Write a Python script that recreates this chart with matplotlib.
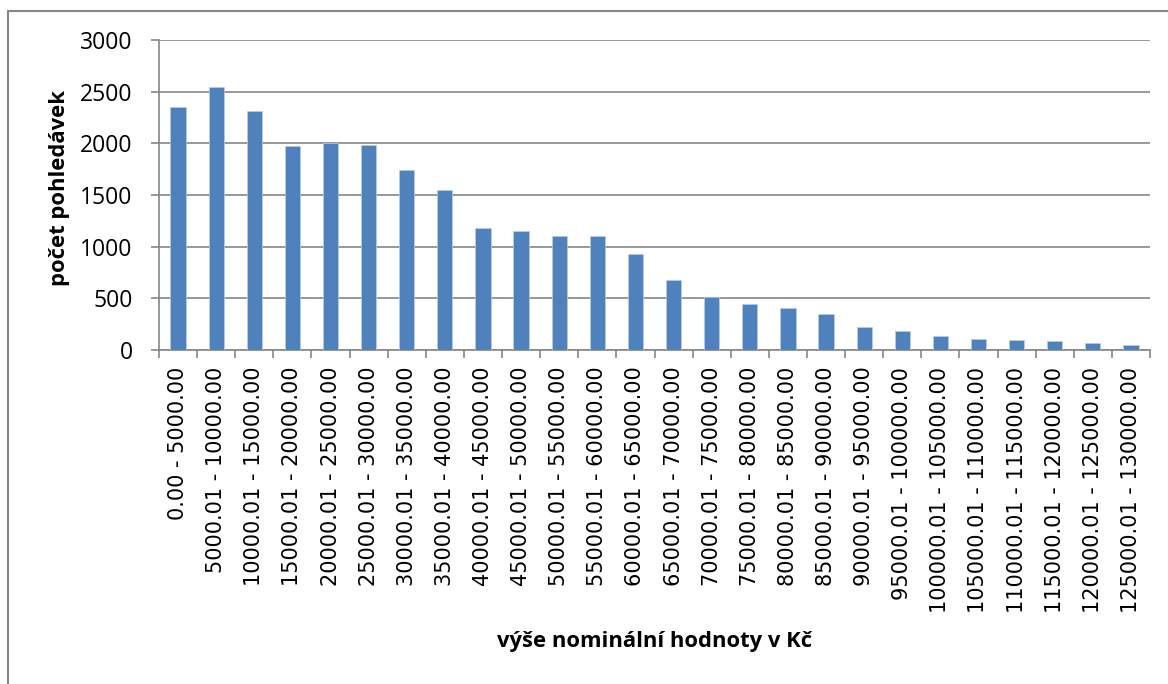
import numpy as np
import matplotlib.pyplot as plt
from matplotlib.patches import Rectangle

plt.rcParams['font.family'] = ['Open Sans', 'DejaVu Sans']

# intervals of nominal value (Kc) and number of receivables
categories = ['0.00 - 5000.00', '5000.01 - 10000.00', '10000.01 - 15000.00',
              '15000.01 - 20000.00', '20000.01 - 25000.00', '25000.01 - 30000.00',
              '30000.01 - 35000.00', '35000.01 - 40000.00', '40000.01 - 45000.00',
              '45000.01 - 50000.00', '50000.01 - 55000.00', '55000.01 - 60000.00',
              '60000.01 - 65000.00', '65000.01 - 70000.00', '70000.01 - 75000.00',
              '75000.01 - 80000.00', '80000.01 - 85000.00', '85000.01 - 90000.00',
              '90000.01 - 95000.00', '95000.01 - 100000.00', '100000.01 - 105000.00',
              '105000.01 - 110000.00', '110000.01 - 115000.00', '115000.01 - 120000.00',
              '120000.01 - 125000.00', '125000.01 - 130000.00']
counts = [2350, 2550, 2310, 1975, 2005, 1985, 1745, 1550, 1185, 1150, 1100, 1100,
          930, 680, 515, 450, 405, 350, 225, 180, 135, 106, 94, 90, 68, 52]
y_ticks = [0, 500, 1000, 1500, 2000, 2500, 3000]

grey = '#868686'
blue = '#4F81BD'

fig = plt.figure(figsize=(11.68, 6.84), dpi=100)
fig.patches.append(Rectangle((8/1168, -0.1), 1.2, 1 - 11/684 + 0.1, transform=fig.transFigure,
                             fill=False, edgecolor=grey, linewidth=1.5))

ax = fig.add_axes([159/1168, 1 - 350/684, (1150 - 159)/1168, (350 - 40)/684])
x = np.arange(len(categories))
ax.bar(x, counts, width=0.4, color=blue, edgecolor='#B9CDE5', linewidth=0.5, zorder=3)

ax.set_xlim(-0.5, len(categories) - 0.5)
ax.set_ylim(0, 3000)
ax.set_yticks(y_ticks)
ax.set_yticklabels([str(v) for v in y_ticks], fontsize=16.5)
ax.yaxis.grid(True, color=grey, linewidth=1.2, zorder=0)

ax.set_xticks(x)
ax.set_xticklabels(categories, rotation=90, va='top', family=['DejaVu Sans'], fontsize=15)
ax.tick_params(axis='x', length=0, pad=12)
ax.set_xticks(np.arange(len(categories) + 1) - 0.5, minor=True)
ax.tick_params(axis='x', which='minor', length=6, color=grey, width=1.2)
ax.tick_params(axis='y', length=6, color=grey, width=1.2, pad=13)

for side in ['top', 'right']:
    ax.spines[side].set_visible(False)
for side in ['left', 'bottom']:
    ax.spines[side].set_color(grey)
    ax.spines[side].set_linewidth(1.2)

fig.text(60/1168, 1 - 188/684, 'počet pohledávek', rotation=90, fontsize=15.8,
         fontweight='bold', ha='center', va='center')
fig.text(655/1168, 1 - 641/684, 'výše nominální hodnoty v Kč', fontsize=15.8,
         fontweight='bold', ha='center', va='center')

plt.savefig('out.png', dpi=100)
